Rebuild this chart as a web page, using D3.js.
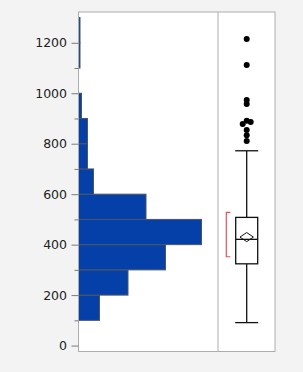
<!DOCTYPE html>
<html>
<head>
<meta charset="utf-8">
<script src="https://cdn.jsdelivr.net/npm/d3@7"></script>
<style>
  html, body { margin: 0; padding: 0; background: #f3f3f3; }
  svg { display: block; }
</style>
</head>
<body>
<script>
// histogram bins (lower edge, upper edge, count)
const binLo = [0, 100, 200, 300, 400, 500, 600, 700, 800, 900, 1000, 1100, 1200];
const binHi = [100, 200, 300, 400, 500, 600, 700, 800, 900, 1000, 1100, 1200, 1300];
const binCount = [0, 14, 33, 58, 82, 45, 10, 6, 6, 2, 0, 1, 1];

// box plot summary
const quartiles = [324, 421, 508];      // q1, median, q3
const whiskers = [91, 772];
const meanVal = 430;
const meanCI = [412, 448];
const shortestHalf = [352, 528];
const outliers = [1215, 1112, 973, 957, 891, 886, 878, 854, 834, 811];

const majorTicks = [0, 200, 400, 600, 800, 1000, 1200];
const minorTicks = [100, 300, 500, 700, 900, 1100];

const width = 303, height = 372;
const plotLeft = 78.5, plotRight = 275, plotTop = 12, plotBottom = 351.5;
const divider = 218;

const svg = d3.select("body").append("svg")
  .attr("width", width)
  .attr("height", height);

// plot area
svg.append("rect")
  .attr("x", plotLeft).attr("y", plotTop)
  .attr("width", plotRight - plotLeft).attr("height", plotBottom - plotTop)
  .attr("fill", "#fff");

const y = d3.scaleLinear().domain([-23.5, 1322]).range([plotBottom, plotTop]);
const xc = d3.scaleLinear().domain([0, 93]).range([plotLeft, divider]);

// histogram bars
svg.append("g")
  .selectAll("rect")
  .data(binCount.map((c, i) => ({ lo: binLo[i], hi: binHi[i], c })).filter(d => d.c > 0))
  .join("rect")
  .attr("x", plotLeft)
  .attr("y", d => y(d.hi))
  .attr("width", d => xc(d.c) - plotLeft)
  .attr("height", d => y(d.lo) - y(d.hi))
  .attr("fill", "#0540a8")
  .attr("stroke", "#4d5566")
  .attr("stroke-width", 1);

// frame
svg.append("rect")
  .attr("x", plotLeft).attr("y", plotTop)
  .attr("width", plotRight - plotLeft).attr("height", plotBottom - plotTop)
  .attr("fill", "none")
  .attr("stroke", "#adadad")
  .attr("stroke-width", 1);

svg.append("line")
  .attr("x1", divider).attr("x2", divider)
  .attr("y1", plotTop).attr("y2", plotBottom)
  .attr("stroke", "#adadad");

// axes
const major = svg.append("g")
  .attr("transform", `translate(${plotLeft},0)`)
  .call(d3.axisLeft(y).tickValues(majorTicks).tickSize(7).tickPadding(4.5).tickFormat(d3.format("d")));
const minor = svg.append("g")
  .attr("transform", `translate(${plotLeft},0)`)
  .call(d3.axisLeft(y).tickValues(minorTicks).tickSize(4).tickFormat(""));

[major, minor].forEach(g => {
  g.select(".domain").remove();
  g.selectAll(".tick line").attr("stroke", "#7a7a7a");
});
major.selectAll(".tick text")
  .attr("fill", "#222")
  .style("font-family", "'DejaVu Sans', sans-serif")
  .style("font-size", "12.5px");

// box plot
const cx = 246.7, boxHalf = 11, capHalf = 11.5;
const g = svg.append("g")
  .attr("stroke", "#111")
  .attr("stroke-width", 1.3)
  .attr("fill", "none");

g.append("line").attr("x1", cx).attr("x2", cx)
  .attr("y1", y(whiskers[1])).attr("y2", y(quartiles[2]));
g.append("line").attr("x1", cx).attr("x2", cx)
  .attr("y1", y(quartiles[0])).attr("y2", y(whiskers[0]));
whiskers.forEach(w => {
  g.append("line").attr("x1", cx - capHalf).attr("x2", cx + capHalf)
    .attr("y1", y(w)).attr("y2", y(w));
});
g.append("rect")
  .attr("x", cx - boxHalf).attr("width", boxHalf * 2)
  .attr("y", y(quartiles[2])).attr("height", y(quartiles[0]) - y(quartiles[2]))
  .attr("fill", "#fff");
g.append("line").attr("x1", cx - boxHalf).attr("x2", cx + boxHalf)
  .attr("y1", y(quartiles[1])).attr("y2", y(quartiles[1]));

// means diamond
const dHalf = 6.7;
g.append("path")
  .attr("stroke-width", 1)
  .attr("d", `M${cx},${y(meanCI[1])} L${cx + dHalf},${y(meanVal)} L${cx},${y(meanCI[0])} L${cx - dHalf},${y(meanVal)} Z`);

// shortest half bracket
const bx = 226.3;
svg.append("path")
  .attr("fill", "none")
  .attr("stroke", "#e8505b")
  .attr("stroke-width", 1.2)
  .attr("d", `M${bx + 4},${y(shortestHalf[1])} H${bx} V${y(shortestHalf[0])} H${bx + 4}`);

// outliers, nudged sideways when they collide
const r = 3;
const placed = [];
outliers.slice().sort((a, b) => b - a).forEach(v => {
  const py = y(v);
  const offsets = [0, 4, -4, 8, -8];
  let px = cx;
  for (const o of offsets) {
    const tx = cx + o;
    if (!placed.some(p => Math.hypot(p.x - tx, p.y - py) < 4)) { px = tx; break; }
  }
  placed.push({ x: px, y: py });
});
svg.append("g")
  .selectAll("circle")
  .data(placed)
  .join("circle")
  .attr("cx", d => d.x)
  .attr("cy", d => d.y)
  .attr("r", r)
  .attr("fill", "#000");
</script>
</body>
</html>
